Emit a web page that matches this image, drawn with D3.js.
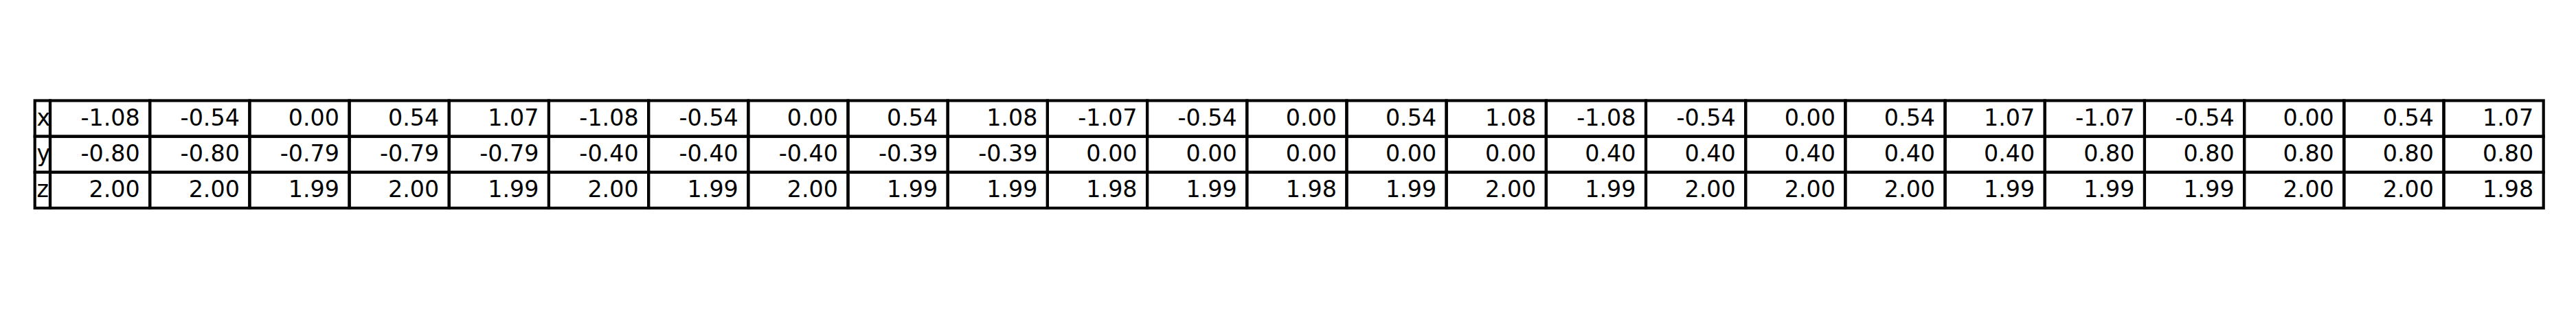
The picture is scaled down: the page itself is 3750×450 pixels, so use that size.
<!DOCTYPE html>
<html>

<head>
    <meta charset="utf-8">
    <script src="https://d3js.org/d3.v7.min.js"></script>
    <style>
        body {
            margin: 0;
            background: #fff;
        }

        text {
            font-family: "DejaVu Sans", sans-serif;
            font-size: 33.33px;
            fill: #000;
        }
    </style>
</head>

<body>
    <div id="table-svg"></div>
    <script>
        // table contents
        var rowLabels = ["x", "y", "z"];
        var xVals = ["-1.08", "-0.54", "0.00", "0.54", "1.07", "-1.08", "-0.54", "0.00", "0.54", "1.08",
            "-1.07", "-0.54", "0.00", "0.54", "1.08", "-1.08", "-0.54", "0.00", "0.54", "1.07",
            "-1.07", "-0.54", "0.00", "0.54", "1.07"];
        var yVals = ["-0.80", "-0.80", "-0.79", "-0.79", "-0.79", "-0.40", "-0.40", "-0.40", "-0.39", "-0.39",
            "0.00", "0.00", "0.00", "0.00", "0.00", "0.40", "0.40", "0.40", "0.40", "0.40",
            "0.80", "0.80", "0.80", "0.80", "0.80"];
        var zVals = ["2.00", "2.00", "1.99", "2.00", "1.99", "2.00", "1.99", "2.00", "1.99", "1.99",
            "1.98", "1.99", "1.98", "1.99", "2.00", "1.99", "2.00", "2.00", "2.00", "1.99",
            "1.99", "1.99", "2.00", "2.00", "1.98"];

        var rows = [xVals, yVals, zVals];

        function drawTable() {
            // note: "top" clashes with window.top, so use tblTop / tblBottom
            var W = 3750, H = 450,
                tblLeft = 50.7, labelRight = 73, tblRight = 3702.7,
                tblTop = 146.5, tblBottom = 303,
                lw = 4.17;

            var nCols = xVals.length;

            // column positions (data columns) and row positions
            var xs = d3.scaleLinear().domain([0, nCols]).range([labelRight, tblRight]);
            var ys = d3.scaleLinear().domain([0, rows.length]).range([tblTop, tblBottom]);
            var colW = xs(1) - xs(0),
                rowH = ys(1) - ys(0);

            var svg = d3.select('#table-svg').append('svg')
                .attr('width', W).attr('height', H);

            var g = svg.append('g');

            // label cells
            var labelCells = g.selectAll('g.label').data(rowLabels).enter()
                .append('g').attr('class', 'label');
            labelCells.append('rect')
                .attr('x', tblLeft).attr('y', function (d, i) { return ys(i); })
                .attr('width', labelRight - tblLeft).attr('height', rowH)
                .attr('fill', '#fff').attr('stroke', '#000').attr('stroke-width', lw);
            labelCells.append('text')
                .attr('x', tblLeft + 0.1 * (labelRight - tblLeft) + 0.5)
                .attr('y', function (d, i) { return ys(i) + 36; })
                .text(function (d) { return d; });

            // data cells
            rows.forEach(function (vals, r) {
                var cells = g.append('g').attr('class', 'row row-' + rowLabels[r])
                    .selectAll('g').data(vals).enter().append('g');
                cells.append('rect')
                    .attr('x', function (d, i) { return xs(i); })
                    .attr('y', ys(r))
                    .attr('width', colW).attr('height', rowH)
                    .attr('fill', 'none').attr('stroke', '#000').attr('stroke-width', lw);
                cells.append('text')
                    .attr('x', function (d, i) { return xs(i + 1) - 0.1 * colW; })
                    .attr('y', ys(r) + 36)
                    .attr('text-anchor', 'end')
                    .text(function (d) { return d; });
            });
        }

        drawTable();
    </script>
</body>

</html>
